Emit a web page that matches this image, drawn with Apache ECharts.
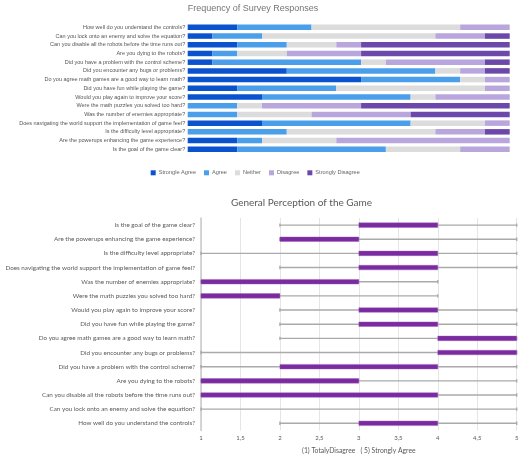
<!DOCTYPE html>
<html>
<head>
<meta charset="utf-8">
<script src="https://cdn.jsdelivr.net/npm/echarts@6/dist/echarts.min.js"></script>
<style>html,body{margin:0;padding:0;background:#fff;}#c{width:523px;height:456px;}</style>
</head>
<body>
<div id="c"></div>
<script>
// Questions, listed top-to-bottom as in the upper chart
const questions = [
  "How well do you understand the controls?",
  "Can you lock onto an enemy and solve the equation?",
  "Can you disable all the robots before the time runs out?",
  "Are you dying to the robots?",
  "Did you have a problem with the control scheme?",
  "Did you encounter any bugs or problems?",
  "Do you agree math games are a good way to learn math?",
  "Did you have fun while playing the game?",
  "Would you play again to improve your score?",
  "Were the math puzzles you solved too hard?",
  "Was the number of enemies appropriate?",
  "Does navigating the world support the implementation of game feel?",
  "Is the difficulty level appropriate?",
  "Are the powerups enhancing the game experience?",
  "Is the goal of the game clear?"
];
const responseNames = ["Strongle Agree", "Agree", "Neither", "Disagree", "Strongly Disagree"];
const stronglyAgree    = [2,1,2,1,1,4,7,2,3,0,0,3,0,2,2];
const agree            = [3,2,2,1,6,6,4,4,6,2,2,6,4,1,6];
const neither          = [6,7,2,2,1,1,1,6,1,1,3,3,6,3,3];
const disagree         = [2,2,1,3,4,1,1,1,3,4,4,1,2,7,2];
const stronglyDisagree = [0,1,6,6,1,1,0,0,0,6,4,0,1,0,0];

// Lower chart (same question order, drawn bottom-to-top)
const whiskerMin = [2,1,1,1,1,1,2,2,2,1,1,2,1,2,2];
const whiskerMax = [5,5,5,5,5,5,5,5,5,4,4,5,5,5,5];
const boxLow     = [3,3,1,1,2,4,4,3,3,1,1,3,3,2,3];
const boxHigh    = [4,3,4,3,4,5,5,4,4,2,3,4,4,3,4];

const colors = ["#0b52cf", "#4a9eea", "#dcdcdc", "#b9a6dc", "#6b48aa"];
const freqSeries = [stronglyAgree, agree, neither, disagree, stronglyDisagree];

const chart = echarts.init(document.getElementById('c'), null, {renderer: 'canvas'});
const topFont = "Liberation Sans";
const botFont = "Lato";

const series = freqSeries.map((vals, k) => ({
  name: responseNames[k],
  type: 'bar',
  stack: 'freq',
  xAxisIndex: 0, yAxisIndex: 0,
  barWidth: 5.5,
  itemStyle: {color: colors[k]},
  data: vals,
  silent: true
}));

series.push({
  type: 'custom',
  xAxisIndex: 1, yAxisIndex: 1,
  silent: true,
  data: questions.map((q, i) => [i, whiskerMin[i], whiskerMax[i], boxLow[i], boxHigh[i]]),
  encode: {y: 0, x: [1, 2, 3, 4]},
  renderItem: function (params, api) {
    const y = api.value(0);
    const p1 = api.coord([api.value(1), y]);
    const p2 = api.coord([api.value(2), y]);
    const b1 = api.coord([api.value(3), y]);
    const b2 = api.coord([api.value(4), y]);
    const lineStyle = {stroke: '#aaaaaa', lineWidth: 1.4};
    const cap = 1.7;
    const children = [
      {type: 'line', shape: {x1: p1[0], y1: p1[1], x2: p2[0], y2: p2[1]}, style: lineStyle},
      {type: 'line', shape: {x1: p1[0], y1: p1[1] - cap, x2: p1[0], y2: p1[1] + cap}, style: lineStyle},
      {type: 'line', shape: {x1: p2[0], y1: p2[1] - cap, x2: p2[0], y2: p2[1] + cap}, style: lineStyle}
    ];
    if (b2[0] - b1[0] > 0) {
      const h = 4.6;
      children.push({type: 'rect', shape: {x: b1[0], y: b1[1] - h / 2, width: b2[0] - b1[0], height: h},
        style: {fill: '#7b2ba0', stroke: '#9a5cbb', lineWidth: 0.4}});
    }
    return {type: 'group', children: children};
  }
});

chart.setOption({
  animation: false,
  backgroundColor: '#ffffff',
  title: [
    {text: 'Frequency of Survey Responses', left: 187.7, top: 4.5, padding: 0,
     textStyle: {fontFamily: topFont, fontSize: 9, fontWeight: 'normal', color: '#757575'}},
    {text: 'General Perception of the Game', left: 301.5, top: 197.5, padding: 0, textAlign: 'center',
     textStyle: {fontFamily: botFont, fontSize: 10, fontWeight: 'normal', color: '#595959'}}
  ],
  legend: {
    data: responseNames,
    left: 150.7, top: 169.8, padding: 0,
    itemWidth: 5, itemHeight: 5, itemGap: 8,
    icon: 'rect',
    textStyle: {fontFamily: topFont, fontSize: 5.6, color: '#666', padding: [0, 0, 0, -2]}
  },
  grid: [
    {left: 187.7, right: 13.3, top: 23, height: 130.6},
    {left: 201, right: 6.3, top: 218, height: 212.4}
  ],
  xAxis: [
    {gridIndex: 0, type: 'value', min: 0, max: 13, show: false},
    {gridIndex: 1, type: 'value', min: 1, max: 5, interval: 0.5,
     name: '(1) TotalyDisagree   ( 5) Strongly Agree', nameLocation: 'middle', nameGap: 16.5,
     nameTextStyle: {fontFamily: botFont, fontSize: 6.8, color: '#595959'},
     axisLine: {show: false}, axisTick: {show: false},
     axisLabel: {fontFamily: botFont, fontSize: 6, color: '#595959', margin: 5,
       formatter: v => String(v).replace('.', ',')},
     splitLine: {show: true, lineStyle: {color: '#dedede', width: 0.8}}}
  ],
  yAxis: [
    {gridIndex: 0, type: 'category', data: questions, inverse: true,
     axisLine: {show: false}, axisTick: {show: false},
     axisLabel: {fontFamily: topFont, fontSize: 5.5, color: '#555', margin: 2.5}},
    {gridIndex: 1, type: 'category', data: questions,
     axisLine: {show: true, lineStyle: {color: '#c8c8c8', width: 1.5}}, axisTick: {show: false},
     axisLabel: {fontFamily: botFont, fontSize: 6.3, color: '#595959', margin: 6}}
  ],
  series: series
});
</script>
</body>
</html>
